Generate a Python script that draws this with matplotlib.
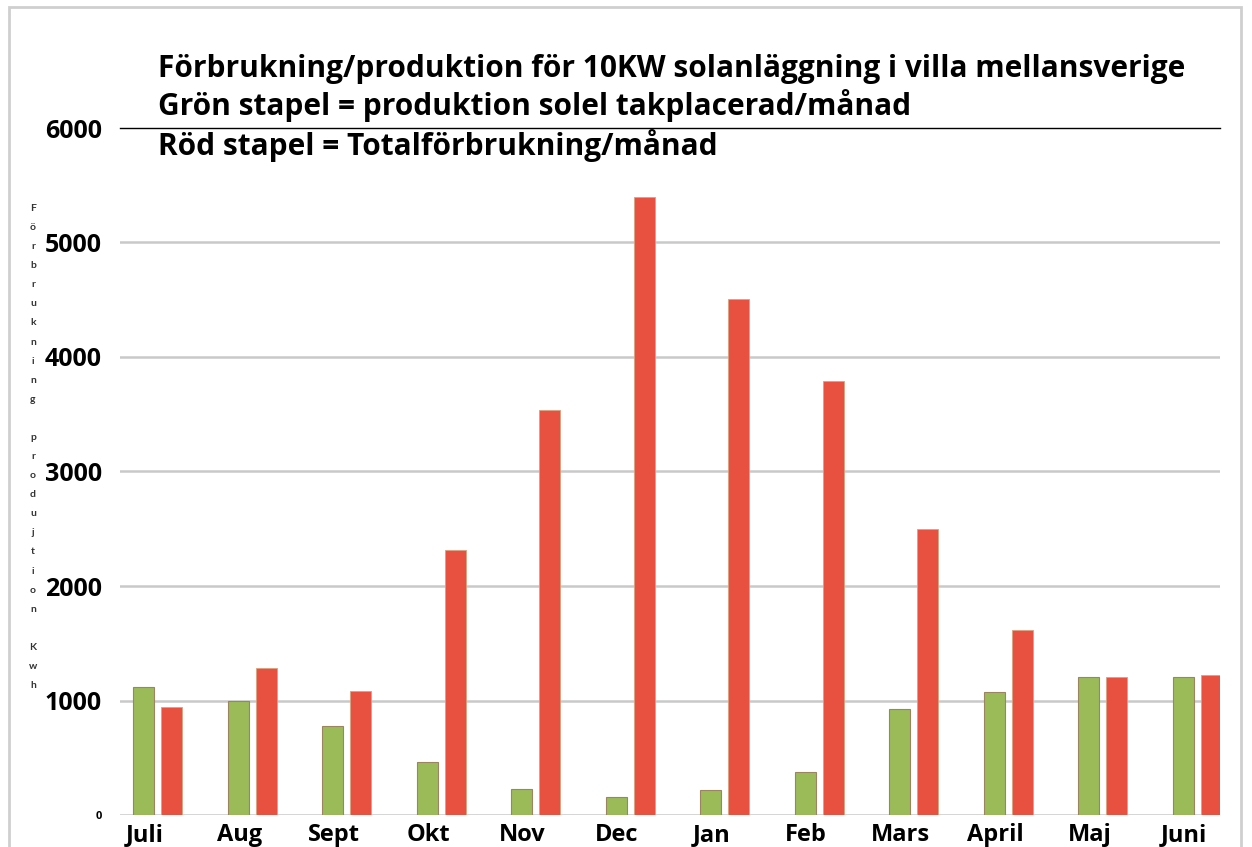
import numpy as np
import matplotlib
matplotlib.use("Agg")
import matplotlib.pyplot as plt
from matplotlib.patches import Rectangle

months = ["Juli", "Aug", "Sept", "Okt", "Nov", "Dec", "Jan", "Feb", "Mars", "April", "Maj", "Juni"]
produktion = [1120, 1000, 780, 465, 225, 155, 215, 375, 925, 1075, 1205, 1205]
forbrukning = [940, 1280, 1085, 2315, 3540, 5400, 4505, 3790, 2500, 1615, 1205, 1225]
yticks = [0, 1000, 2000, 3000, 4000, 5000, 6000]
title_lines = [
    "Förbrukning/produktion för 10KW solanläggning i villa mellansverige",
    "Grön stapel = produktion solel takplacerad/månad",
    "Röd stapel = Totalförbrukning/månad",
]
ylabel = "Förbrukning produjtion Kwh"

GREEN = "#9bbb59"
RED = "#e8503f"

plt.rcParams['font.family'] = ['Open Sans', 'DejaVu Sans']

fig = plt.figure(figsize=(12.52, 8.47), dpi=100)
ax = fig.add_axes([120 / 1252, 1 - 815 / 847, 1100 / 1252, (815 - 128) / 847])

x = np.arange(len(months))
w = 0.22
ax.bar(x - 0.148, produktion, w, color=GREEN, edgecolor="#9a8560", linewidth=0.8, zorder=3)
ax.bar(x + 0.148, forbrukning, w, color=RED, edgecolor="#d9a080", linewidth=0.6, zorder=3)

ax.set_xlim(-0.40, 11.24)
ax.set_ylim(0, 6000)
ax.set_yticks(yticks)
ax.set_yticklabels([str(v) for v in yticks], fontsize=18, fontweight="bold")
ax.get_yticklabels()[0].set_fontsize(8)
ax.set_xticks(x - 0.14)
ax.set_xticklabels(months, fontsize=17, fontweight="bold")
ax.tick_params(axis="both", length=0, pad=13)
ax.tick_params(axis="x", pad=6)
for s in ax.spines.values():
    s.set_visible(False)
for v in yticks[:-1]:
    ax.axhline(v, color="#c9c9c9", linewidth=1.8, zorder=1)
ax.axhline(6000, color="black", linewidth=1.0, zorder=1, clip_on=False)

# stacked vertical axis label
fig.text(33 / 1252, 1 - 447 / 847, "\n".join(ylabel), fontsize=7.5, fontweight="bold",
         color="#333333", ha="center", va="center", linespacing=2.44, family="Lato")

baselines = [77, 115, 155]
for line, b in zip(title_lines, baselines):
    fig.text(158 / 1252, 1 - b / 847, line, fontsize=21.5, fontweight="bold",
             ha="left", va="baseline")

# window frame
fig.patches.append(Rectangle((9 / 1252, -0.02), 1232 / 1252, 1.02 - 7 / 847, transform=fig.transFigure,
                             fill=False, edgecolor="#cfcfcf", linewidth=2))

fig.savefig("out.png", dpi=100)
